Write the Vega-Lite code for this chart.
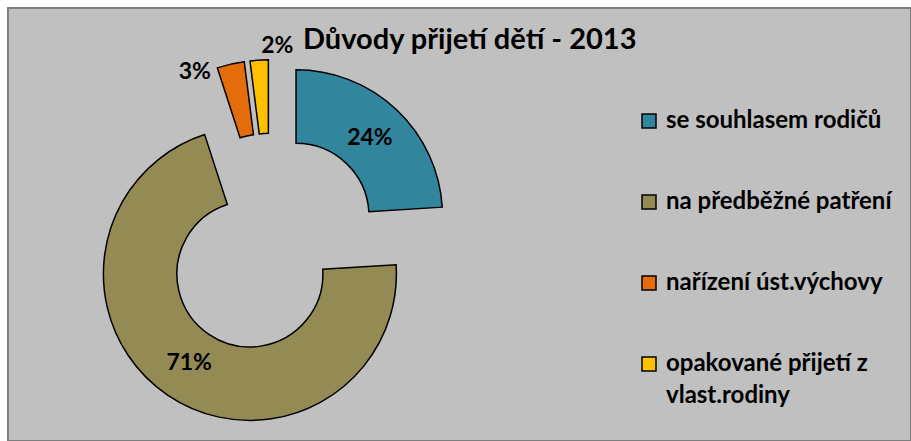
{
  "$schema": "https://vega.github.io/schema/vega-lite/v6.json",
  "width": 903,
  "height": 433,
  "autosize": {"type": "none"},
  "padding": {"left": 8, "top": 8, "right": 0, "bottom": 0},
  "background": "white",
  "config": {
    "view": {"fill": "#c0c0c0", "stroke": "#7f7f7f", "strokeWidth": 2},
    "font": "Lato",
    "style": {"guide-label": {"lineHeight": 32}}
  },
  "title": {
    "text": "Důvody přijetí dětí - 2013",
    "anchor": "start",
    "frame": "group",
    "dx": 295,
    "dy": 70,
    "offset": 0,
    "baseline": "alphabetic",
    "font": "Lato",
    "fontSize": 29,
    "fontWeight": "bold",
    "color": "black"
  },
  "data": {
    "values": [
      {"kategorie": "se souhlasem rodičů", "hodnota": 24, "poradi": 1},
      {"kategorie": "na předběžné patření", "hodnota": 71, "poradi": 2},
      {"kategorie": "nařízení úst.výchovy", "hodnota": 3, "poradi": 3},
      {"kategorie": "opakované přijetí z vlast.rodiny", "hodnota": 2, "poradi": 4}
    ]
  },
  "transform": [
    {"joinaggregate": [{"op": "sum", "field": "hodnota", "as": "celkem"}]},
    {"window": [{"op": "sum", "field": "hodnota", "as": "kumul"}], "sort": [{"field": "poradi"}], "frame": [null, 0]},
    {"calculate": "(datum.kumul - datum.hodnota) / datum.celkem", "as": "zacatek"},
    {"calculate": "datum.kumul / datum.celkem", "as": "konec"},
    {"calculate": "datum.hodnota / datum.celkem", "as": "podil"},
    {"calculate": "(datum.zacatek + datum.konec) / 2", "as": "stred"},
    {"calculate": "sin(2 * PI * datum.stred)", "as": "ex"},
    {"calculate": "cos(2 * PI * datum.stred)", "as": "ey"}
  ],
  "encoding": {
    "x": {"field": "ex", "type": "quantitative", "scale": {"domain": [-1, 1], "range": [225.7, 299.7], "zero": false, "nice": false}, "axis": null},
    "y": {"field": "ey", "type": "quantitative", "scale": {"domain": [-1, 1], "range": [272.3, 198.3], "zero": false, "nice": false}, "axis": null}
  },
  "layer": [
    {
      "mark": {"type": "arc", "innerRadius": 73, "outerRadius": 146.5, "stroke": "black", "strokeWidth": 1.5},
      "encoding": {
        "theta": {"field": "zacatek", "type": "quantitative", "scale": {"domain": [0, 1], "range": [0, 6.283185307]}, "stack": null},
        "theta2": {"field": "konec"},
        "color": {
          "field": "kategorie",
          "type": "nominal",
          "sort": ["se souhlasem rodičů", "na předběžné patření", "nařízení úst.výchovy", "opakované přijetí z vlast.rodiny"],
          "scale": {
            "domain": ["se souhlasem rodičů", "na předběžné patření", "nařízení úst.výchovy", "opakované přijetí z vlast.rodiny"],
            "range": ["#31859c", "#948a54", "#e46c0a", "#ffc000"]
          },
          "legend": {
            "title": null,
            "orient": "none",
            "legendX": 629,
            "legendY": 101,
            "padding": 0,
            "symbolType": "square",
            "symbolSize": 196,
            "symbolStrokeColor": "black",
            "symbolStrokeWidth": 1.5,
            "symbolOpacity": 1,
            "labelFont": "Lato",
            "labelFontSize": 24,
            "labelFontWeight": "bold",
            "labelColor": "black",
            "labelOffset": 5,
            "labelLimit": 400,
            "rowPadding": 57,
            "labelExpr": "datum.label == 'opakované přijetí z vlast.rodiny' ? ['opakované přijetí z', 'vlast.rodiny'] : datum.label"
          }
        }
      }
    },
    {
      "transform": [{"filter": "datum.podil >= 0.1"}],
      "mark": {"type": "text", "radius": 108, "font": "Lato", "fontSize": 23, "fontWeight": "bold", "color": "black"},
      "encoding": {
        "theta": {"field": "stred", "type": "quantitative", "stack": null},
        "text": {"field": "podil", "type": "quantitative", "format": ".0%"}
      }
    },
    {
      "transform": [{"filter": "datum.kategorie == 'nařízení úst.výchovy'"}],
      "mark": {"type": "text", "radius": 155, "dx": -34, "dy": 16, "font": "Lato", "fontSize": 23, "fontWeight": "bold", "color": "black"},
      "encoding": {
        "theta": {"field": "stred", "type": "quantitative", "stack": null},
        "text": {"field": "podil", "type": "quantitative", "format": ".0%"}
      }
    },
    {
      "transform": [{"filter": "datum.kategorie == 'opakované přijetí z vlast.rodiny'"}],
      "mark": {"type": "text", "radius": 161, "dx": 19, "font": "Lato", "fontSize": 23, "fontWeight": "bold", "color": "black"},
      "encoding": {
        "theta": {"field": "stred", "type": "quantitative", "stack": null},
        "text": {"field": "podil", "type": "quantitative", "format": ".0%"}
      }
    }
  ]
}
